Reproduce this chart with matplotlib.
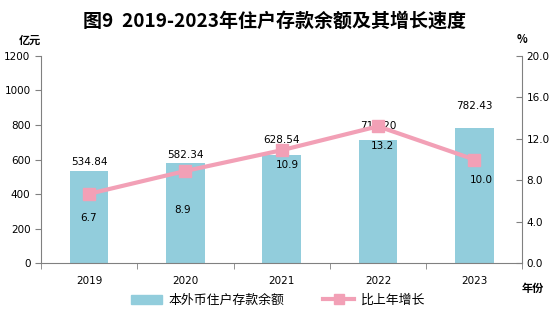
import matplotlib.pyplot as plt
from matplotlib.patches import Patch
from matplotlib.lines import Line2D

plt.rcParams['font.family'] = ['DejaVu Sans', 'Noto Sans CJK SC']
cjk = ['Noto Sans CJK SC', 'DejaVu Sans']

years = ['2019', '2020', '2021', '2022', '2023']
deposits = [534.84, 582.34, 628.54, 711.20, 782.43]
growth = [6.7, 8.9, 10.9, 13.2, 10.0]

bar_color = '#92CDDC'
line_color = '#F2A0B6'
axis_color = '#808080'

# label nudges in pixels (dx, dy)
bar_offsets = [(0, 9), (0, 8), (0, 15), (0, 14), (0, 22)]
growth_offsets = [(0, -24), (-3, -39), (6, -15), (4, -20), (7, -20)]

fig = plt.figure(figsize=(5.6, 3.22), dpi=100)
ax = fig.add_axes([0.073, 0.182, 0.860, 0.645])
ax2 = ax.twinx()

x = list(range(len(years)))
ax.bar(x, deposits, width=0.4, color=bar_color, zorder=2)
ax2.plot(x, growth, color=line_color, lw=3, marker='s', markersize=9, zorder=3)

ax.set_xlim(-0.5, 4.5)
ax.set_ylim(0, 1200)
ax.set_yticks(range(0, 1201, 200))
ax2.set_ylim(0, 20)
ax2.set_yticks([0, 4, 8, 12, 16, 20])
ax2.set_yticklabels(['%.1f' % v for v in [0, 4, 8, 12, 16, 20]])

ax.set_xticks(x)
ax.set_xticklabels(years)
ax.set_xticks([i + 0.5 for i in range(-1, 5)], minor=True)
ax.tick_params(axis='x', which='major', length=0, labelsize=7.5, pad=9)
ax.tick_params(axis='x', which='minor', length=4, color=axis_color, direction='out')
ax.tick_params(axis='y', length=4, color=axis_color, labelsize=7.5, direction='out')
ax2.tick_params(axis='y', length=4, color=axis_color, labelsize=7.5, direction='in', pad=3)

for a in (ax, ax2):
    a.spines['top'].set_visible(False)
    for s in ['left', 'right', 'bottom']:
        a.spines[s].set_color(axis_color)
ax.spines['right'].set_visible(False)
ax2.spines['left'].set_visible(False)
ax2.spines['bottom'].set_visible(False)

for i, v in enumerate(deposits):
    ax.annotate('%.2f' % v, (i, v), xytext=bar_offsets[i], textcoords='offset pixels',
                ha='center', va='center', fontsize=7.5, zorder=5)
for i, v in enumerate(growth):
    ax2.annotate('%.1f' % v, (i, v), xytext=growth_offsets[i], textcoords='offset pixels',
                 ha='center', va='center', fontsize=7.5, zorder=5)

fig.text(0.49, 0.935, '图9  2019-2023年住户存款余额及其增长速度', ha='center', va='center',
         fontsize=13.7, fontweight='bold', family=cjk)
fig.text(0.054, 0.876, '亿元', ha='center', va='center', fontsize=8, fontweight='bold', family=cjk)
fig.text(0.932, 0.876, '%', ha='center', va='center', fontsize=8, fontweight='bold', family=cjk)
fig.text(0.952, 0.105, '年份', ha='center', va='center', fontsize=8, fontweight='bold', family=cjk)

handles = [Patch(color=bar_color),
           Line2D([], [], color=line_color, lw=3, marker='s', markersize=7)]
fig.legend(handles, ['本外币住户存款余额', '比上年增长'], loc='center', bbox_to_anchor=(0.497, 0.068),
           ncol=2, frameon=False, prop={'family': cjk, 'size': 9.3}, handlelength=2.4,
           handleheight=0.7, columnspacing=3.0, handletextpad=0.5)

fig.savefig('out.png', dpi=100)
